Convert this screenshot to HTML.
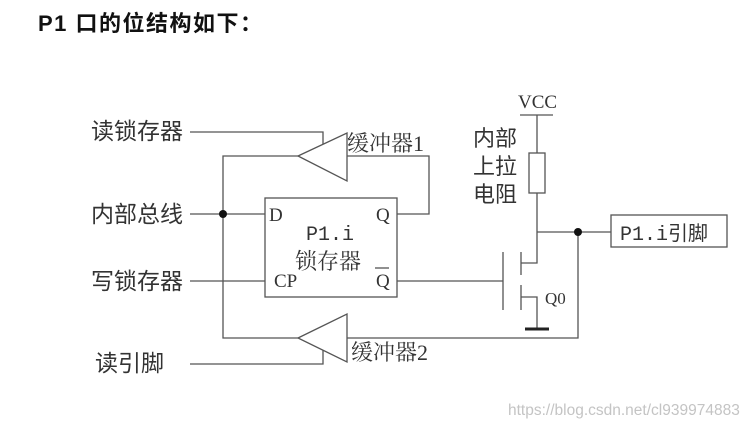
<!DOCTYPE html>
<html><head><meta charset="utf-8"><style>
html,body{margin:0;padding:0;background:#fff;width:753px;height:428px;overflow:hidden}
</style></head><body>
<svg width="753" height="428" viewBox="0 0 753 428" xmlns="http://www.w3.org/2000/svg">
<rect width="753" height="428" fill="#fff"/>
<text x="38" y="31" font-family="'Liberation Sans','Noto Sans CJK SC',sans-serif" font-size="22" font-weight="bold" fill="#111" letter-spacing="1.5">P1 口的位结构如下：</text>
<g font-family="'Liberation Sans','Noto Sans CJK SC',sans-serif" font-size="23" fill="#333">
<text x="91" y="139">读锁存器</text>
<text x="91" y="222">内部总线</text>
<text x="91" y="289">写锁存器</text>
<text x="95" y="371">读引脚</text>
<text x="473" y="146" font-size="22">内部</text>
<text x="473" y="174" font-size="22">上拉</text>
<text x="473" y="202" font-size="22">电阻</text>
</g>
<g font-family="'Liberation Serif','Noto Serif CJK SC','Noto Sans CJK SC',serif" font-size="22" fill="#333">
<text x="347" y="151">缓冲器1</text>
<text x="351" y="360">缓冲器2</text>
</g>
<g font-family="'Liberation Serif','Noto Serif CJK SC',serif" font-size="19" fill="#333">
<text x="269" y="221">D</text>
<text x="376" y="221">Q</text>
<text x="306" y="240" font-family="'Liberation Mono','Noto Sans CJK SC',monospace" font-size="20">P1.i</text>
<text x="295" y="269" font-size="22">锁存器</text>
<text x="274" y="287">CP</text>
<text x="376" y="287">Q</text>
<text x="518" y="108">VCC</text>
<text x="545" y="304" font-size="17">Q0</text>
<text x="620" y="240" font-family="'Liberation Mono','Noto Sans CJK SC',monospace" font-size="20">P1.i引脚</text>
</g>
<g stroke="#555" stroke-width="1.3" fill="none">
<line x1="375" y1="268" x2="389" y2="268"/>
<polyline points="190,132 323,132 323,144"/>
<polygon points="298,156 347,133 347,181"/>
<polyline points="347,156 429,156 429,214 397,214"/>
<polyline points="298,156 223,156 223,338 298,338"/>
<line x1="190" y1="214" x2="265" y2="214"/>
<rect x="265" y="198" width="132" height="99"/>
<line x1="190" y1="281" x2="265" y2="281"/>
<line x1="397" y1="281" x2="503" y2="281"/>
<polygon points="298,338 347,314 347,362"/>
<polyline points="347,338 578,338 578,232"/>
<polyline points="190,364 323,364 323,350"/>
<line x1="520" y1="115" x2="553" y2="115"/>
<line x1="537" y1="115" x2="537" y2="153"/>
<rect x="529" y="153" width="16" height="40"/>
<polyline points="537,193 537,263 521,263"/>
<line x1="537" y1="232" x2="611" y2="232"/>
<rect x="611" y="215" width="116" height="32"/>
<line x1="503" y1="252" x2="503" y2="310"/>
<line x1="521" y1="252" x2="521" y2="275"/>
<line x1="521" y1="285" x2="521" y2="310"/>
<polyline points="521,297 537,297 537,329"/>
</g>
<line x1="525" y1="329" x2="549" y2="329" stroke="#222" stroke-width="3"/>
<circle cx="223" cy="214" r="4" fill="#111"/>
<circle cx="578" cy="232" r="4" fill="#111"/>
<text x="508" y="415" font-family="'Liberation Sans',sans-serif" font-size="15.5" fill="#c4c4c4">https://blog.csdn.net/cl939974883</text>
</svg>
</body></html>
